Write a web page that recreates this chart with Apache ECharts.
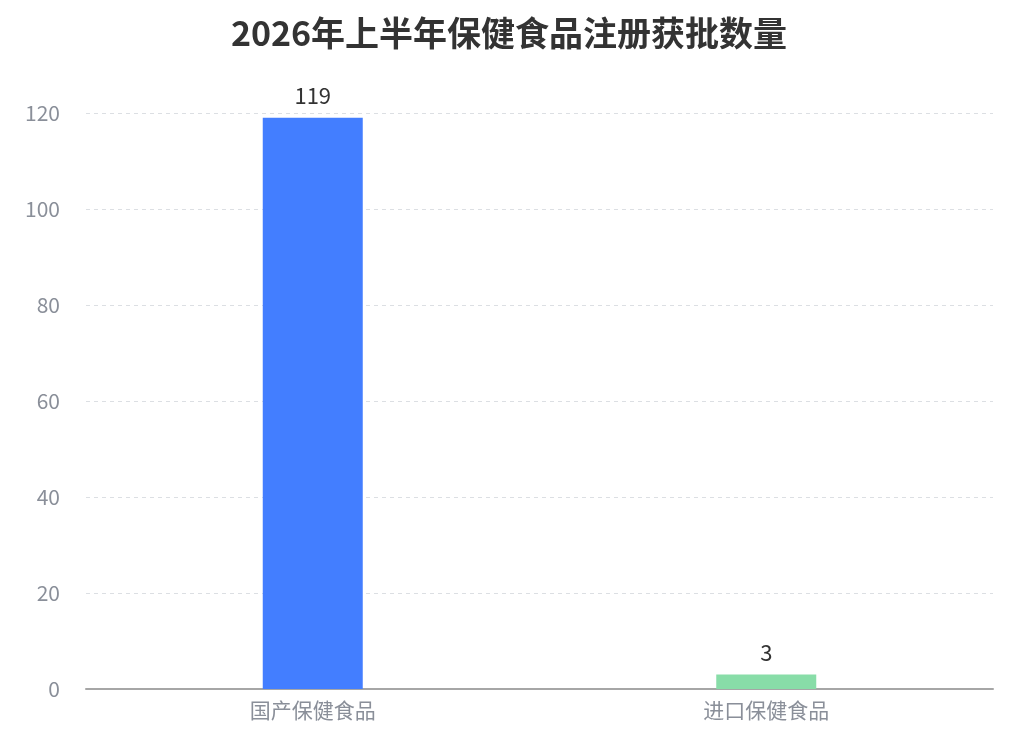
<!DOCTYPE html>
<html><head><meta charset="utf-8">
<script src="https://cdn.jsdelivr.net/npm/echarts@6/dist/echarts.min.js"></script>
<style>html,body{margin:0;padding:0;background:#fff}#c{width:1018px;height:747px}</style>
</head><body><div id="c"></div>
<script>
const titleText = '2026年上半年保健食品注册获批数量';
const categories = ['国产保健食品', '进口保健食品'];
const values = [119, 3];
const barColors = ['#437EFF', '#88DDA8'];
const yTicks = { min: 0, max: 120, interval: 20 };

const chart = echarts.init(document.getElementById('c'));
chart.setOption({
  backgroundColor: '#fff',
  textStyle: { fontFamily: '"Noto Sans CJK SC", "Noto Sans", sans-serif' },
  title: {
    text: titleText, left: 'center', top: 11,
    textStyle: { fontSize: 34, fontWeight: 'bold', color: '#333', fontFamily: '"Noto Sans CJK SC", sans-serif' }
  },
  grid: { left: 86, right: 25, top: 113, bottom: 58, containLabel: false },
  xAxis: {
    type: 'category', data: categories,
    axisLine: { lineStyle: { color: '#a6a6a6', width: 2 } },
    axisTick: { show: false },
    axisLabel: { color: '#8a8f99', fontSize: 21, margin: 11 }
  },
  yAxis: {
    type: 'value', min: yTicks.min, max: yTicks.max, interval: yTicks.interval,
    axisLine: { show: false }, axisTick: { show: false },
    axisLabel: { color: '#8a8f99', fontSize: 21, margin: 26 },
    splitLine: { lineStyle: { type: [4, 4], color: '#dcdfe3' } }
  },
  series: [{
    type: 'bar', barWidth: 100,
    data: values.map((v, i) => ({ value: v, itemStyle: { color: barColors[i] } })),
    label: { show: true, position: 'top', color: '#333', fontSize: 22, distance: 11 }
  }]
});
</script></body></html>
